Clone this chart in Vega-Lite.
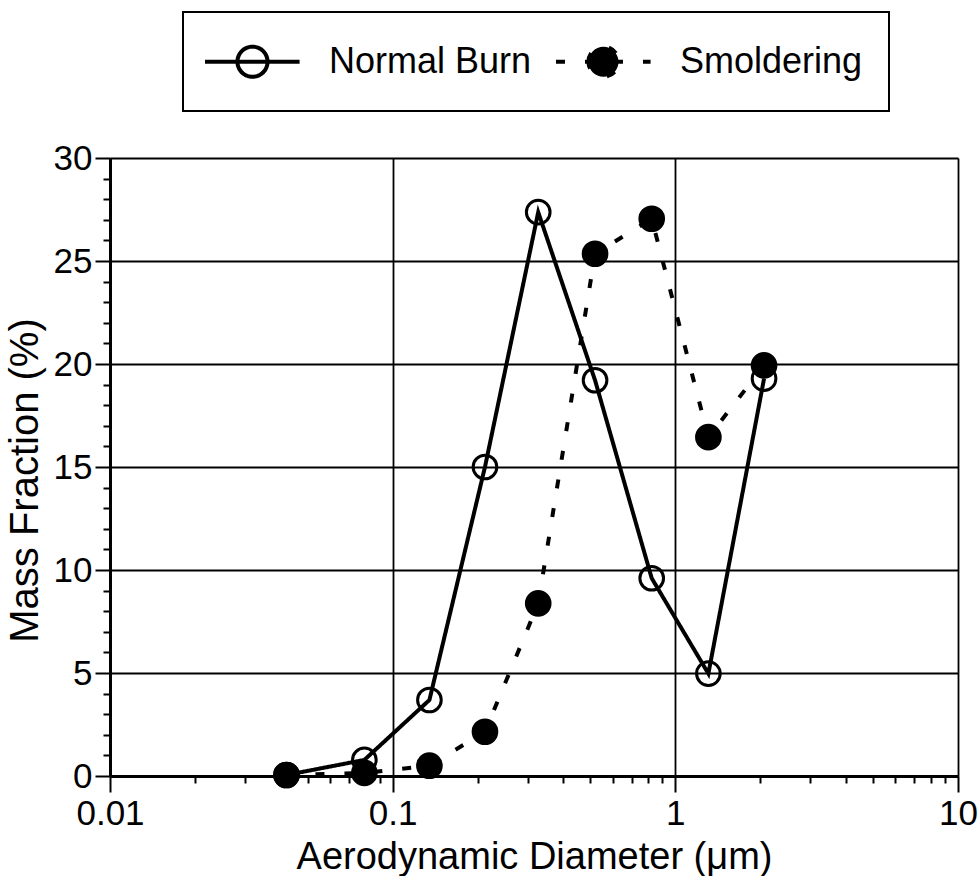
{
  "$schema": "https://vega.github.io/schema/vega-lite/v6.json",
  "autosize": {"type": "none"},
  "width": 848,
  "height": 618,
  "padding": {"left": 110, "top": 158, "right": 22, "bottom": 100},
  "background": "white",
  "config": {
    "font": "Liberation Sans",
    "view": {"stroke": null},
    "axis": {
      "labelFont": "Liberation Sans",
      "titleFont": "Liberation Sans",
      "labelColor": "black",
      "titleColor": "black",
      "titleFontWeight": "normal",
      "domainColor": "black",
      "domainWidth": 3,
      "tickColor": "black",
      "tickWidth": 2,
      "gridColor": "black",
      "gridWidth": 1.8
    }
  },
  "data": {
    "values": [
      {"d": 0.0421, "m": 0.05, "s": "Normal Burn"},
      {"d": 0.0794, "m": 0.78, "s": "Normal Burn"},
      {"d": 0.1349, "m": 3.69, "s": "Normal Burn"},
      {"d": 0.2121, "m": 15.0, "s": "Normal Burn"},
      {"d": 0.3273, "m": 27.37, "s": "Normal Burn"},
      {"d": 0.520, "m": 19.21, "s": "Normal Burn"},
      {"d": 0.825, "m": 9.6, "s": "Normal Burn"},
      {"d": 1.309, "m": 4.97, "s": "Normal Burn"},
      {"d": 2.06, "m": 19.29, "s": "Normal Burn"},
      {"d": 0.0421, "m": 0.05, "s": "Smoldering"},
      {"d": 0.0794, "m": 0.15, "s": "Smoldering"},
      {"d": 0.1349, "m": 0.5, "s": "Smoldering"},
      {"d": 0.2121, "m": 2.15, "s": "Smoldering"},
      {"d": 0.3273, "m": 8.38, "s": "Smoldering"},
      {"d": 0.520, "m": 25.35, "s": "Smoldering"},
      {"d": 0.825, "m": 27.05, "s": "Smoldering"},
      {"d": 1.309, "m": 16.45, "s": "Smoldering"},
      {"d": 2.06, "m": 19.93, "s": "Smoldering"}
    ]
  },
  "encoding": {
    "x": {
      "field": "d",
      "type": "quantitative",
      "scale": {"type": "log", "domain": [0.01, 10], "nice": false},
      "axis": {
        "title": "Aerodynamic Diameter (μm)",
        "titleFontSize": 38,
        "titlePadding": 7,
        "labelFontSize": 35,
        "labelPadding": 4,
        "format": "~g",
        "values": [0.01, 0.02, 0.03, 0.04, 0.05, 0.06, 0.07, 0.08, 0.09, 0.1, 0.2, 0.3, 0.4, 0.5, 0.6, 0.7, 0.8, 0.9, 1, 2, 3, 4, 5, 6, 7, 8, 9, 10],
        "labelExpr": "abs(log(datum.value)/LN10 - round(log(datum.value)/LN10)) < 0.000001 ? datum.label : ''",
        "tickSize": {"condition": {"test": "abs(log(datum.value)/LN10 - round(log(datum.value)/LN10)) < 0.000001", "value": 16}, "value": 7},
        "gridOpacity": {"condition": {"test": "abs(log(datum.value)/LN10 - round(log(datum.value)/LN10)) < 0.000001", "value": 1}, "value": 0},
        "labelFlush": false,
        "labelOverlap": false
      }
    },
    "y": {
      "field": "m",
      "type": "quantitative",
      "scale": {"domain": [0, 30], "nice": false},
      "axis": {
        "title": "Mass Fraction (%)",
        "titleFontSize": 40,
        "titlePadding": 8,
        "titleY": 322,
        "labelFontSize": 35,
        "labelPadding": 3,
        "values": [0, 1, 2, 3, 4, 5, 6, 7, 8, 9, 10, 11, 12, 13, 14, 15, 16, 17, 18, 19, 20, 21, 22, 23, 24, 25, 26, 27, 28, 29, 30],
        "labelExpr": "datum.value % 5 === 0 ? datum.label : ''",
        "tickSize": {"condition": {"test": "datum.value % 5 === 0", "value": 15}, "value": 7},
        "gridOpacity": {"condition": {"test": "datum.value % 5 === 0", "value": 1}, "value": 0},
        "labelFlush": false,
        "labelOverlap": false
      }
    }
  },
  "layer": [
    {
      "mark": {"type": "line", "color": "black", "strokeWidth": 4},
      "encoding": {
        "strokeDash": {
          "field": "s",
          "type": "nominal",
          "scale": {"domain": ["Normal Burn", "Smoldering"], "range": [[1, 0], [9, 20]]}
        }
      }
    },
    {
      "mark": {"type": "point", "shape": "circle", "filled": true, "size": 560, "stroke": "black", "strokeWidth": 3, "opacity": 1},
      "encoding": {
        "fill": {
          "field": "s",
          "type": "nominal",
          "scale": {"domain": ["Normal Burn", "Smoldering"], "range": ["transparent", "black"]},
          "legend": {
            "title": null,
            "orient": "none",
            "legendX": 73,
            "legendY": -146,
            "direction": "horizontal",
            "labelFont": "Liberation Sans",
            "labelFontSize": 36,
            "labelColor": "black",
            "labelLimit": 500,
            "labelOffset": 73,
            "columnPadding": 15,
            "padding": 26,
            "strokeColor": "black",
            "symbolType": "M-1.28,0L3.12,0M0.23,0A0.7,0.7 0 1,1 1.63,0A0.7,0.7 0 1,1 0.23,0Z",
            "symbolSize": 1849,
            "symbolStrokeColor": "black",
            "symbolStrokeWidth": 4,
            "symbolOpacity": 1,
            "encode": {
              "legend": {"update": {"strokeWidth": {"value": 2}}}
            }
          }
        }
      }
    }
  ]
}
